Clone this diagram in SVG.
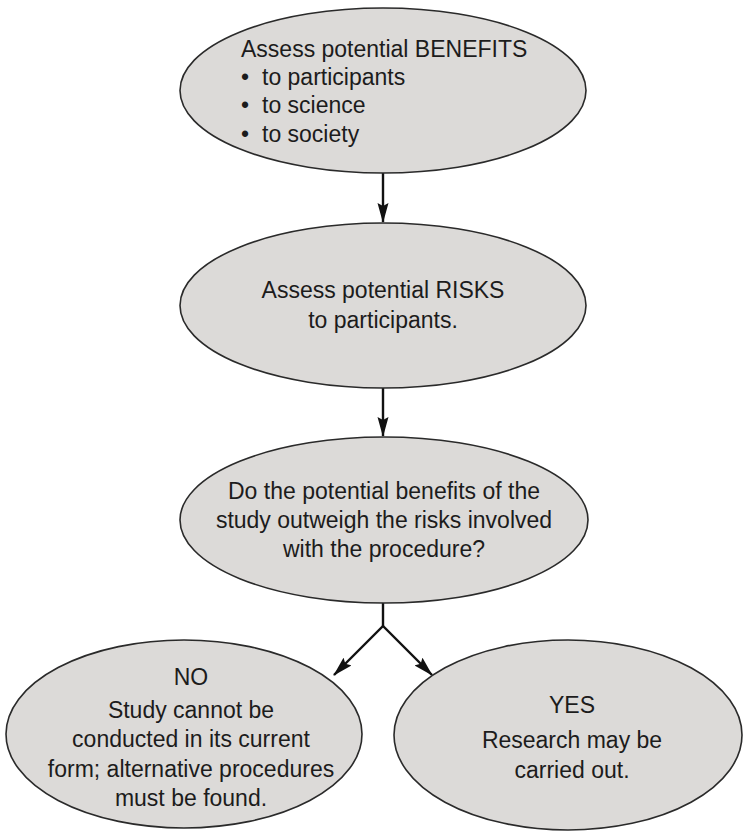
<svg xmlns="http://www.w3.org/2000/svg" width="744" height="831" viewBox="0 0 744 831">
<style>
.node ellipse{fill:#dcdad8;stroke:#2a2a2a;stroke-width:1.6}
text{font-family:"Liberation Sans",Arial,sans-serif;font-size:23px;fill:#1c1c1c}
.c{text-anchor:middle}
.edge{stroke:#111;stroke-width:2.4;fill:none}
</style>
<defs>
<marker id="ah" markerWidth="20" markerHeight="12" refX="19" refY="6" orient="auto" markerUnits="userSpaceOnUse">
<path d="M0,0.5 L20,6 L0,11.5 L3,6 Z" fill="#111"/>
</marker>
</defs>
<rect width="744" height="831" fill="#fff"/>
<g id="connectors">
<line class="edge" x1="383" y1="173" x2="383" y2="222" marker-end="url(#ah)"/>
<line class="edge" x1="383" y1="388" x2="383" y2="436" marker-end="url(#ah)"/>
<polyline class="edge" points="383,603 383,626"/>
<line class="edge" x1="383" y1="626" x2="334" y2="675" marker-end="url(#ah)"/>
<line class="edge" x1="383" y1="626" x2="432" y2="675" marker-end="url(#ah)"/>
</g>
<g id="benefits" class="node">
<ellipse cx="383" cy="90.5" rx="203" ry="82.5"/>
<text x="241" y="57">Assess potential BENEFITS</text>
<text x="241" y="85">•</text><text x="262" y="85">to participants</text>
<text x="241" y="113">•</text><text x="262" y="113">to science</text>
<text x="241" y="142">•</text><text x="262" y="142">to society</text>
</g>
<g id="risks" class="node">
<ellipse cx="383" cy="305.5" rx="203" ry="82.5"/>
<text class="c" x="383" y="298">Assess potential RISKS</text>
<text class="c" x="383" y="328">to participants.</text>
</g>
<g id="question" class="node">
<ellipse cx="384" cy="520" rx="204" ry="83"/>
<text class="c" x="384" y="499">Do the potential benefits of the</text>
<text class="c" x="384" y="528">study outweigh the risks involved</text>
<text class="c" x="384" y="557">with the procedure?</text>
</g>
<g id="no" class="node">
<ellipse cx="184" cy="734" rx="178" ry="94"/>
<text class="c" x="191" y="685">NO</text>
<text class="c" x="191" y="718">Study cannot be</text>
<text class="c" x="191" y="747">conducted in its current</text>
<text class="c" x="191" y="777">form; alternative procedures</text>
<text class="c" x="191" y="806">must be found.</text>
</g>
<g id="yes" class="node">
<ellipse cx="568" cy="735" rx="174" ry="95"/>
<text class="c" x="572" y="713">YES</text>
<text class="c" x="572" y="748">Research may be</text>
<text class="c" x="572" y="778">carried out.</text>
</g>
</svg>
